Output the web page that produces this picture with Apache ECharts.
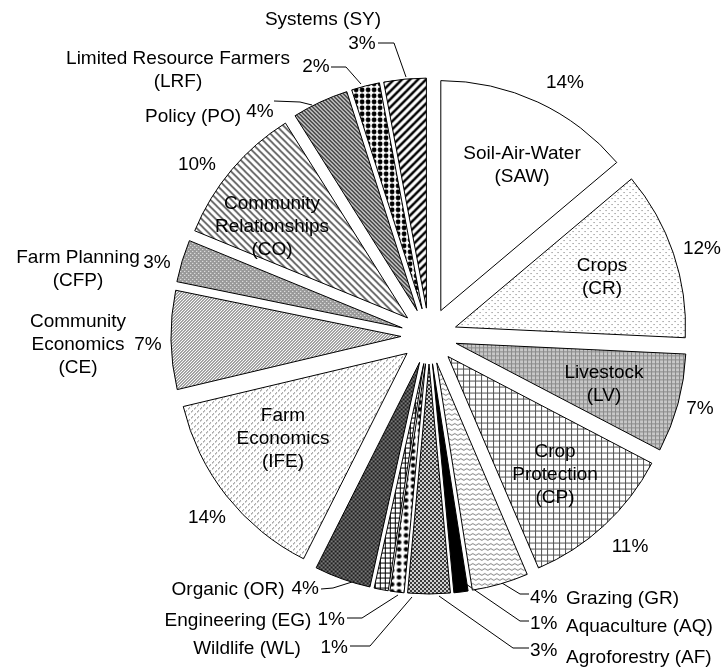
<!DOCTYPE html>
<html>
<head>
<meta charset="utf-8">
<script src="https://cdn.jsdelivr.net/npm/echarts@6/dist/echarts.min.js"></script>
<style>
  html, body { margin: 0; padding: 0; background: #fff; }
  #chart { width: 721px; height: 669px; }
</style>
</head>
<body>
<div id="chart"></div>
<script>
// slices, clockwise from 12 o'clock
const codes = ['SAW', 'CR', 'LV', 'CP', 'GR', 'AQ', 'AF', 'WL', 'EG', 'OR', 'IFE', 'CE', 'CFP', 'CO', 'PO', 'LRF', 'SY'];
const shares = [14, 12, 7, 11, 4, 1, 3, 1, 1, 4, 14, 7, 3, 10, 4, 2, 3];
const sliceNames = [
  'Soil-Air-Water\n(SAW)', 'Crops\n(CR)', 'Livestock\n(LV)', 'Crop\nProtection\n(CP)',
  'Grazing (GR)', 'Aquaculture (AQ)', 'Agroforestry (AF)', 'Wildlife (WL)', 'Engineering (EG)',
  'Organic (OR)', 'Farm\nEconomics\n(IFE)', 'Community\nEconomics\n(CE)', 'Farm Planning\n(CFP)',
  'Community\nRelationships\n(CO)', 'Policy (PO)', 'Limited Resource Farmers\n(LRF)', 'Systems (SY)'
];

// where each name goes (pixels): inside the big slices, outside the small ones
const namePos = {
  SAW: [522, 165, 'center'], CR: [602, 277, 'center'], LV: [604, 384, 'center'],
  CP: [555, 475, 'center'], IFE: [283, 439, 'center'], CO: [272, 227, 'center'],
  GR: [566, 599, 'left'], AQ: [566, 627, 'left'], AF: [566, 658, 'left'],
  WL: [247, 649, 'center'], EG: [238, 621, 'center'], OR: [228, 590, 'center'],
  CE: [78, 345, 'center'], CFP: [78, 269, 'center'], PO: [193, 117, 'center'],
  LRF: [178, 70, 'center'], SY: [323, 20, 'center']
};
// percentages, with optional leader line
const pctPos = {
  SAW: { x: 565, y: 83, a: 'center' },
  CR: { x: 702, y: 249, a: 'center' },
  LV: { x: 700, y: 409, a: 'center' },
  CP: { x: 630, y: 547, a: 'center' },
  GR: { x: 530, y: 598, a: 'left', line: [[497, 580], [520, 594], [529, 594]] },
  AQ: { x: 530, y: 624, a: 'left', line: [[466, 584], [520, 621], [529, 621]] },
  AF: { x: 530, y: 651, a: 'left', line: [[439, 596], [513, 648], [529, 648]] },
  WL: { x: 348, y: 648, a: 'right', line: [[412, 597], [370, 646], [350, 646]] },
  EG: { x: 345, y: 620, a: 'right', line: [[398, 595], [362, 618], [347, 618]] },
  OR: { x: 319, y: 589, a: 'right', line: [[352, 582], [333, 588], [321, 589]] },
  IFE: { x: 207, y: 518, a: 'center' },
  CE: { x: 148, y: 345, a: 'center' },
  CFP: { x: 157, y: 263, a: 'center' },
  CO: { x: 197, y: 165, a: 'center' },
  PO: { x: 260, y: 112, a: 'center', line: [[312, 105], [300, 102], [274, 101]] },
  LRF: { x: 316, y: 67, a: 'center', line: [[361, 84], [346, 67], [331, 67]] },
  SY: { x: 362, y: 44, a: 'center', line: [[406, 77], [394, 43], [378, 43]] }
};

// ---- pattern fills ----
function tile(w, h, draw) {
  const c = document.createElement('canvas');
  c.width = w; c.height = h;
  const ctx = c.getContext('2d');
  ctx.fillStyle = '#fff';
  ctx.fillRect(0, 0, w, h);
  draw(ctx, w, h);
  return { image: c, repeat: 'repeat' };
}
function px(ctx, color, pts) {
  ctx.fillStyle = color;
  pts.forEach(p => ctx.fillRect(p[0], p[1], 1, 1));
}
function stripes(size, width, color, dir) {
  return tile(size, size, (ctx) => {
    ctx.strokeStyle = color;
    ctx.lineWidth = width;
    for (let k = -1; k <= 1; k++) {
      ctx.beginPath();
      if (dir === '/') {
        ctx.moveTo(k * size - 1, size + 1);
        ctx.lineTo(k * size + size + 1, -1);
      } else {
        ctx.moveTo(k * size - 1, -1);
        ctx.lineTo(k * size + size + 1, size + 1);
      }
      ctx.stroke();
    }
  });
}
function grid(size, bg, color) {
  return tile(size, size, (ctx) => {
    ctx.fillStyle = bg; ctx.fillRect(0, 0, size, size);
    ctx.fillStyle = color;
    ctx.fillRect(0, 0, size, 1);
    ctx.fillRect(0, 0, 1, size);
  });
}
function checker(a, b) {
  return tile(4, 4, (ctx) => {
    ctx.fillStyle = a; ctx.fillRect(0, 0, 4, 4);
    ctx.fillStyle = b; ctx.fillRect(0, 0, 2, 2); ctx.fillRect(2, 2, 2, 2);
  });
}
function bigDots(size, r) {
  return tile(size, size, (ctx) => {
    ctx.fillStyle = '#000';
    ctx.beginPath(); ctx.arc(size / 2, size / 2, r, 0, Math.PI * 2); ctx.fill();
  });
}

const fills = {
  SAW: '#ffffff',
  CR: tile(6, 6, ctx => px(ctx, '#707070', [[0, 0], [3, 3]])),
  LV: grid(4, '#c8c8c8', '#8a8a8a'),
  CP: grid(6, '#ffffff', '#555555'),
  GR: tile(6, 5, ctx => {
    ctx.strokeStyle = '#808080'; ctx.lineWidth = 1;
    ctx.beginPath(); ctx.moveTo(0, 3.5); ctx.lineTo(3, 1.5); ctx.lineTo(6, 3.5); ctx.stroke();
  }),
  AQ: '#000000',
  AF: checker('#d0d0d0', '#3a3a3a'),
  WL: bigDots(7, 2.3),
  EG: grid(5, '#ffffff', '#000000'),
  OR: checker('#7a7a7a', '#1e1e1e'),
  IFE: tile(6, 6, ctx => px(ctx, '#707070', [[0, 1], [1, 0], [3, 4], [4, 3]])),
  CE: tile(3, 3, ctx => px(ctx, '#444444', [[2, 0], [1, 1], [0, 2]])),
  CFP: tile(4, 4, ctx => {
    ctx.fillStyle = '#999999'; ctx.fillRect(0, 0, 4, 4);
    px(ctx, '#ffffff', [[1, 1], [3, 3]]);
  }),
  CO: stripes(7, 1.6, '#555555', '\\'),
  PO: stripes(4, 1.5, '#111111', '\\'),
  LRF: bigDots(6, 2.4),
  SY: stripes(8, 2.5, '#000000', '/')
};

const FONT = 'Liberation Sans';
const CENTER = [429, 336];
const RADIUS = 230;
const txt = { color: '#000', fontFamily: FONT, fontSize: 19, lineHeight: 23 };

// invisible copy of the pie, used only to carry text labels
function labelPie(extra) {
  return Object.assign({
    type: 'pie',
    center: CENTER,
    radius: RADIUS,
    startAngle: 90,
    silent: true,
    avoidLabelOverlap: false,
    emphasis: { disabled: true },
    itemStyle: { color: 'rgba(0,0,0,0)', borderWidth: 0 }
  }, extra);
}

const chart = echarts.init(document.getElementById('chart'), null, { renderer: 'canvas' });

chart.setOption({
  animation: false,
  backgroundColor: '#fff',
  textStyle: { fontFamily: FONT },
  series: [
    { // patterned, exploded slices
      type: 'pie',
      center: CENTER,
      radius: RADIUS,
      startAngle: 90,
      clockwise: true,
      selectedMode: 'multiple',
      selectedOffset: 28,
      avoidLabelOverlap: false,
      emphasis: { disabled: true },
      itemStyle: { borderColor: '#000', borderWidth: 1 },
      label: { show: false },
      labelLine: { show: false },
      data: codes.map((c, i) => ({
        name: c,
        value: shares[i],
        selected: true,
        itemStyle: { color: fills[c] }
      }))
    },
    labelPie({ // percentages
      label: Object.assign({ position: 'outside', formatter: p => shares[p.dataIndex] + '%' }, txt),
      labelLine: { show: true, length: 5, length2: 5, lineStyle: { color: '#000', width: 1 } },
      data: codes.map((c, i) => ({
        name: c,
        value: shares[i],
        labelLine: { show: !!pctPos[c].line }
      })),
      labelLayout: p => {
        const q = pctPos[codes[p.dataIndex]];
        const o = { x: q.x, y: q.y, align: q.a, verticalAlign: 'middle' };
        if (q.line) o.labelLinePoints = q.line;
        return o;
      }
    }),
    labelPie({ // slice names
      label: Object.assign({ position: 'outside', formatter: p => sliceNames[p.dataIndex] }, txt),
      labelLine: { show: false },
      data: codes.map((c, i) => ({ name: c, value: shares[i] })),
      labelLayout: p => {
        const q = namePos[codes[p.dataIndex]];
        return { x: q[0], y: q[1], align: q[2], verticalAlign: 'middle' };
      }
    })
  ]
});
</script>
</body>
</html>
